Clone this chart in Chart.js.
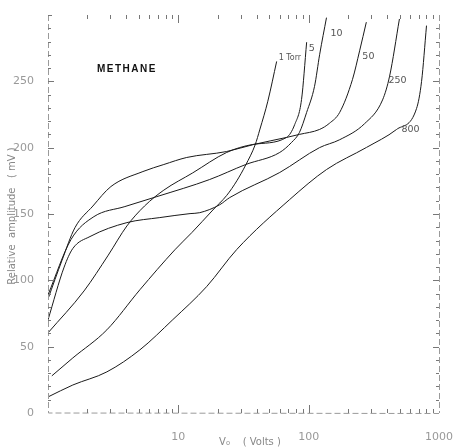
<!DOCTYPE html>
<html>
<head>
<meta charset="utf-8">
<script src="https://cdn.jsdelivr.net/npm/chart.js@4.4.0/dist/chart.umd.min.js"></script>
<style>
  body { margin: 0; background: #fff; }
  canvas { display: block; }
</style>
</head>
<body>
<canvas id="chart" width="453" height="447"></canvas>
<script>
// methane, pulse amplitude vs applied voltage, one curve per pressure
const curveNames = ["1 Torr", "5", "10", "50", "250", "800"];

const torr1V = [1.07, 1.55, 2.83, 5.07, 9.4, 12.7, 18.4, 23.5, 28.1, 32.9, 38.8, 42.3, 48.6, 56.8];
const torr1Amp = [28, 41.5, 62.7, 92.9, 123, 136, 153, 164, 175, 187, 202, 214, 235, 265];

const torr5V = [1, 1.89, 2.9, 4.03, 5.5, 7.74, 12.9, 23.5, 37.2, 67.6, 78.2, 88.2, 96.5];
const torr5Amp = [60.4, 92, 119, 141, 156, 168, 181, 196.4, 202.4, 207.7, 217.5, 236.4, 279.5];

const torr10V = [1, 1.5, 2.25, 3.89, 6.84, 17.4, 32.9, 60, 74, 85, 96.5, 110.9, 121.5, 137];
const torr10Amp = [89, 130.7, 148, 155.6, 163.1, 176, 187.3, 196.4, 204, 211.5, 226.6, 246.2, 270.4, 298];

const torr50V = [1, 1.28, 1.61, 2.21, 3.04, 5.35, 7.74, 11.6, 23.5, 37.9, 67.6, 85, 121, 144, 173, 217, 246, 277];
const torr50Amp = [86, 115, 139.7, 156, 170.7, 182, 187.3, 192.6, 197.1, 202.4, 207.7, 210, 213.7, 218.3, 226.6, 251.5, 273, 294.6];

const torr250V = [1, 1.33, 1.55, 2.1, 4.03, 7.21, 12.3, 14.6, 20.8, 24.8, 60, 121, 173, 268, 369, 418, 497];
const torr250Amp = [70.2, 110, 124, 133, 143.5, 147.3, 150.3, 151, 157, 162.4, 181.3, 200, 206, 218, 236, 254, 297];

const torr800V = [1, 1.55, 2.83, 5.07, 9.08, 16.5, 28.1, 71.5, 137, 278, 472, 673, 735, 802];
const torr800Amp = [12.1, 21.1, 31, 47.6, 70.4, 95.3, 123.3, 160.9, 183.5, 200.2, 213.7, 229.6, 250, 292];

const xTickLabels = [10, 100, 1000];
const yTickLabels = [0, 50, 100, 150, 200, 250];

function pts(vs, amps) {
  return vs.map((v, i) => ({ x: v, y: amps[i] }));
}

const series = [
  pts(torr1V, torr1Amp),
  pts(torr5V, torr5Amp),
  pts(torr10V, torr10Amp),
  pts(torr50V, torr50Amp),
  pts(torr250V, torr250Amp),
  pts(torr800V, torr800Amp),
];

// where each pressure label sits relative to the top end of its curve
const labelOffsets = [[2, -4], [2, 6], [4, 16], [-4, 34], [-11, 62], [-25, 104]];

const framePlugin = {
  id: "frame",
  afterDraw(chart) {
    const ctx = chart.ctx;
    const a = chart.chartArea;
    const xs = chart.scales.x;
    const ys = chart.scales.y;
    ctx.save();

    // axis lines, a bit broken like the scan
    ctx.strokeStyle = "#9a9a9a";
    ctx.lineWidth = 1;
    ctx.setLineDash([6, 3]);
    ctx.beginPath();
    ctx.moveTo(a.left + 0.5, a.top);
    ctx.lineTo(a.left + 0.5, a.bottom);
    ctx.lineTo(a.right, a.bottom + 0.5);
    ctx.moveTo(a.right + 0.5, a.top);
    ctx.lineTo(a.right + 0.5, a.bottom);
    ctx.stroke();
    ctx.setLineDash([]);

    // inward ticks, log x
    ctx.strokeStyle = "#777";
    ctx.beginPath();
    ctx.moveTo(a.left, a.top + 0.5);
    ctx.lineTo(a.left + 4, a.top + 0.5);
    for (let dec = 1; dec < 1000; dec *= 10) {
      for (let k = 2; k <= 10; k++) {
        const v = k * dec;
        if (v >= 1000) continue;
        const px = Math.round(xs.getPixelForValue(v)) + 0.5;
        const len = k === 10 ? 8 : 4;
        ctx.moveTo(px, a.bottom);
        ctx.lineTo(px, a.bottom - len);
        ctx.moveTo(px, a.top);
        ctx.lineTo(px, a.top + len);
      }
    }
    for (let v = 10; v < 300; v += 10) {
      const py = Math.round(ys.getPixelForValue(v)) + 0.5;
      const len = v % 50 === 0 ? 6 : 3;
      ctx.moveTo(a.left, py);
      ctx.lineTo(a.left + len, py);
      ctx.moveTo(a.right, py);
      ctx.lineTo(a.right - len, py);
    }
    ctx.stroke();

    // pressure labels
    ctx.fillStyle = "#555";
    ctx.textBaseline = "middle";
    ctx.textAlign = "left";
    chart.data.datasets.forEach((ds, i) => {
      const meta = chart.getDatasetMeta(i);
      const last = meta.data[meta.data.length - 1];
      const off = labelOffsets[i];
      ctx.font = i === 0 ? "8px 'DejaVu Sans'" : "9.5px 'DejaVu Sans'";
      ctx.fillText(curveNames[i], last.x + off[0], last.y + off[1]);
    });

    // title in the plot
    ctx.fillStyle = "#111";
    ctx.font = "bold 10px 'Liberation Sans'";
    ctx.letterSpacing = "1.5px";
    ctx.fillText("METHANE", 97, 69);
    ctx.letterSpacing = "0px";

    // axis titles
    ctx.fillStyle = "#888";
    ctx.font = "10px 'DejaVu Sans'";
    ctx.textAlign = "center";
    ctx.fillText("V\u2080    ( Volts )", 250, 442);
    ctx.translate(12, 216);
    ctx.rotate(-Math.PI / 2);
    ctx.fillText("Relative  amplitude   ( mV )", 0, 0);
    ctx.restore();
  },
};

new Chart(document.getElementById("chart"), {
  type: "line",
  data: {
    datasets: series.map((d, i) => ({
      label: curveNames[i],
      data: d,
      borderColor: "#1a1a1a",
      borderWidth: 1,
      pointRadius: 0,
      fill: false,
      cubicInterpolationMode: "monotone",
    })),
  },
  options: {
    responsive: false,
    animation: false,
    devicePixelRatio: 1,
    layout: { padding: { top: 15, right: 14, left: 0, bottom: 0 } },
    plugins: {
      legend: { display: false },
      tooltip: { enabled: false },
    },
    scales: {
      x: {
        type: "logarithmic",
        min: 1,
        max: 1000,
        grid: { display: false },
        border: { display: false },
        afterFit: (s) => {
          s.height = 34;
          s.paddingLeft = 0;
          s.paddingRight = 0;
        },
        afterBuildTicks: (s) => {
          s.ticks = xTickLabels.map((v) => ({ value: v }));
        },
        ticks: {
          autoSkip: false,
          maxRotation: 0,
          padding: 10,
          color: "#999",
          font: { family: "DejaVu Sans", size: 11 },
          callback: (v) => String(v),
        },
      },
      y: {
        min: 0,
        max: 300,
        grid: { display: false },
        border: { display: false },
        afterFit: (s) => {
          s.width = 48;
          s.paddingTop = 0;
          s.paddingBottom = 0;
        },
        afterBuildTicks: (s) => {
          s.ticks = yTickLabels.map((v) => ({ value: v }));
        },
        ticks: {
          padding: 6,
          color: "#999",
          font: { family: "DejaVu Sans", size: 11 },
        },
      },
    },
  },
  plugins: [framePlugin],
});
</script>
</body>
</html>
